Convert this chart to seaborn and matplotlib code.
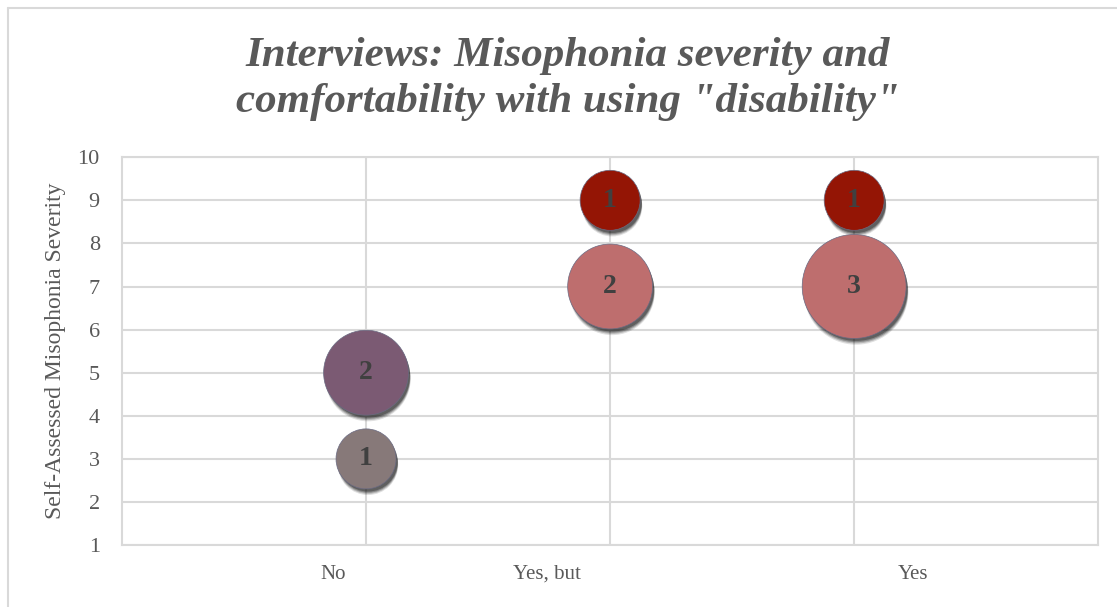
import matplotlib
matplotlib.use("Agg")
import matplotlib.pyplot as plt
import matplotlib.transforms as mtransforms
from matplotlib.lines import Line2D
import seaborn as sns
import pandas as pd

# ---- data ----
answers = ["No", "No", "Yes, but", "Yes, but", "Yes", "Yes"]
answer_pos = [1, 1, 2, 2, 3, 3]
severity = [3, 5, 7, 9, 7, 9]
counts = [1, 2, 2, 1, 3, 1]
bubble_colors = ["#877979", "#7B5A73", "#BE6E6E", "#941505", "#BE6E6E", "#941505"]

category_labels = ["No", "Yes, but", "Yes"]
category_label_pos = [0.865, 1.74, 3.24]
y_ticks = list(range(1, 11))

title = 'Interviews: Misophonia severity and\ncomfortability with using "disability"'
y_label = "Self-Assessed Misophonia Severity"

df = pd.DataFrame({
    "answer": answers,
    "pos": answer_pos,
    "severity": severity,
    "count": counts,
    "group": [f"{a}-{s}" for a, s in zip(answers, severity)],
})
palette = dict(zip(df["group"], bubble_colors))
base_area = 1866  # marker area (pt^2) for a single participant
size_map = {c: base_area * c for c in sorted(set(counts))}

sns.set_theme(style="white")
plt.rcParams["font.family"] = ["Liberation Serif", "DejaVu Serif"]

fig = plt.figure(figsize=(11.17, 6.07), dpi=100)
ax = fig.add_axes([0.1092, 0.102, 0.874, 0.639])

grid_c = "#d9d9d9"
text_c = "#595959"

# soft drop shadow below and right of each bubble
shadow_layers = [(1.01, 0.12, 6), (1.00, 0.18, 5), (0.99, 0.25, 4), (0.98, 0.30, 3)]
for grow, a, dy in shadow_layers:
    off = mtransforms.offset_copy(ax.transData, fig=fig, x=2, y=-dy, units="dots")
    sns.scatterplot(data=df, x="pos", y="severity", size="count",
                    sizes={c: v * grow for c, v in size_map.items()},
                    color="black", alpha=a, linewidth=0, legend=False,
                    transform=off, ax=ax, zorder=2)

sns.scatterplot(data=df, x="pos", y="severity", hue="group", palette=palette,
                size="count", sizes=size_map, edgecolor="#6a6a82",
                linewidth=0.5, alpha=1.0, legend=False, ax=ax, zorder=3)

for x, y, c in zip(df["pos"], df["severity"], df["count"]):
    ax.text(x, y, str(c), ha="center", va="center", fontsize=20,
            fontweight="bold", color="#404040", zorder=4)

ax.set_xlim(0, 4)
ax.set_ylim(1, 10)
ax.set_yticks(y_ticks)
ax.set_xticks([1, 2, 3])
ax.set_xticklabels([])
ax.set_xticks(category_label_pos, minor=True)
ax.set_xticklabels(category_labels, minor=True)
ax.tick_params(axis="x", which="both", length=0, pad=14, labelsize=15, labelcolor=text_c)
ax.tick_params(axis="y", length=0, pad=16, labelsize=16, labelcolor=text_c)
ax.grid(True, which="major", color=grid_c, linewidth=1.5)
ax.set_axisbelow(True)
for s in ax.spines.values():
    s.set_color(grid_c)
    s.set_linewidth(1.5)

ax.set_xlabel("")
ax.set_ylabel(y_label, fontsize=17, color=text_c, labelpad=8)

fig.text(0.508, 0.870, title, ha="center", va="center", fontsize=31,
         fontstyle="italic", fontweight="bold", color=text_c, linespacing=1.3)

# outer chart frame
fig.add_artist(Line2D([8 / 1117, 8 / 1117], [0, 1 - 8 / 607], transform=fig.transFigure,
                      color=grid_c, linewidth=1.5))
fig.add_artist(Line2D([8 / 1117, 1], [1 - 8 / 607, 1 - 8 / 607], transform=fig.transFigure,
                      color=grid_c, linewidth=1.5))

fig.savefig("out.png", dpi=100, facecolor="white")
